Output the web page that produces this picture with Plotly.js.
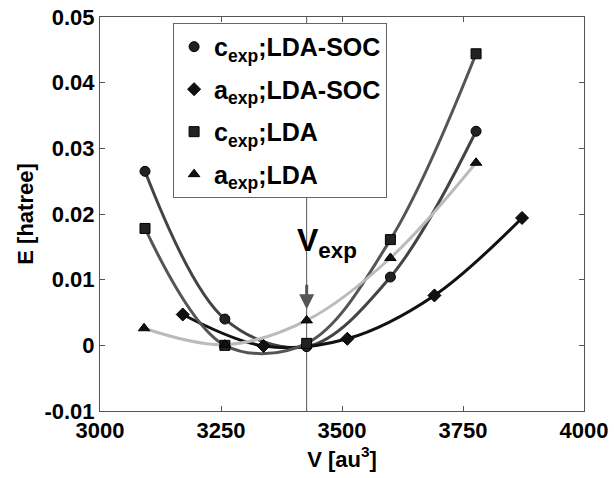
<!DOCTYPE html>
<html>
<head>
<meta charset="utf-8">
<script src="https://cdn.plot.ly/plotly-3.0.1.min.js"></script>
<style>html,body{margin:0;padding:0;background:#fff;}#chart{width:614px;height:478px;}</style>
</head>
<body>
<div id="chart"></div>
<script>
// Data
const seriesNames = ["c<sub>exp</sub>;LDA-SOC", "a<sub>exp</sub>;LDA-SOC", "c<sub>exp</sub>;LDA", "a<sub>exp</sub>;LDA"];
const vCexpSOC = [3093, 3258, 3427, 3600, 3777];
const eCexpSOC = [0.0265, 0.0040, -0.0002, 0.0104, 0.0326];
const vAexpSOC = [3171, 3338, 3511, 3691, 3872];
const eAexpSOC = [0.0047, -0.0001, 0.0010, 0.0076, 0.0194];
const vCexpLDA = [3093, 3258, 3427, 3600, 3777];
const eCexpLDA = [0.0178, 0.0000, 0.0003, 0.0161, 0.0444];
const vAexpLDA = [3091, 3258, 3427, 3600, 3777];
const eAexpLDA = [0.0026, 0.0001, 0.0038, 0.0133, 0.0278];
const vExp = 3427;
const xTicks = [3000, 3250, 3500, 3750, 4000];
const yTicks = [-0.01, 0, 0.01, 0.02, 0.03, 0.04, 0.05];
const yTickText = ["-0.01", "0", "0.01", "0.02", "0.03", "0.04", "0.05"];

const font = {family: "Liberation Sans, Arial, sans-serif", color: "#000"};
const bold = (s) => Object.assign({size: s, weight: "bold"}, font);

function lineTrace(x, y, lineColor) {
  return {
    x: x, y: y, type: "scatter", mode: "lines", showlegend: false, hoverinfo: "skip",
    line: {color: lineColor, width: 3, shape: "spline", smoothing: 1}
  };
}
function markerTrace(x, y, name, symbol, mcolor, grp) {
  return {
    x: x, y: y, name: name, type: "scatter", mode: "markers", legendgroup: grp,
    marker: {symbol: symbol, size: 10, color: mcolor, line: {color: "#000", width: 1}},
    cliponaxis: false
  };
}

const data = [
  lineTrace(vCexpSOC, eCexpSOC, "#444"),
  lineTrace(vAexpSOC, eAexpSOC, "#111"),
  lineTrace(vCexpLDA, eCexpLDA, "#555"),
  lineTrace(vAexpLDA, eAexpLDA, "#bbb"),
  markerTrace(vCexpSOC, eCexpSOC, seriesNames[0], "circle", "#222", "g1"),
  markerTrace(vAexpSOC, eAexpSOC, seriesNames[1], "diamond", "#111", "g2"),
  markerTrace(vCexpLDA, eCexpLDA, seriesNames[2], "square", "#222", "g3"),
  markerTrace(vAexpLDA, eAexpLDA, seriesNames[3], "triangle-up", "#111", "g4")
];

const layout = {
  width: 614, height: 478,
  margin: {l: 100, r: 30, t: 17, b: 67},
  paper_bgcolor: "#fff", plot_bgcolor: "#fff",
  showlegend: true,
  legend: {
    x: 0.151, y: 0.985, xanchor: "left", yanchor: "top",
    bgcolor: "#fff", bordercolor: "#666", borderwidth: 1,
    font: bold(25), itemwidth: 30, tracegroupgap: 7, traceorder: "grouped"
  },
  xaxis: {
    range: [3000, 4000], tickvals: xTicks, ticktext: xTicks.map(String),
    ticks: "inside", ticklen: 5, tickcolor: "#555", mirror: "ticks",
    showline: true, linecolor: "#555", linewidth: 1, showgrid: false, zeroline: false,
    tickfont: bold(22),
    title: {text: "V [au<sup>3</sup>]", font: bold(22), standoff: 2}
  },
  yaxis: {
    range: [-0.01, 0.05], tickvals: yTicks, ticktext: yTickText,
    ticks: "inside", ticklen: 5, tickcolor: "#555", mirror: "ticks",
    showline: true, linecolor: "#555", linewidth: 1, showgrid: false, zeroline: false,
    tickfont: bold(22),
    title: {text: "E [hatree]", font: bold(22), standoff: 4}
  },
  shapes: [
    {type: "line", xref: "x", yref: "paper", x0: vExp, x1: vExp, y0: 0, y1: 1, line: {color: "#555", width: 1}, layer: "below"}
  ],
  annotations: [
    {x: vExp, y: 0.0157, xref: "x", yref: "y", text: "V<sub>exp</sub>", showarrow: false,
     xanchor: "left", yanchor: "middle", xshift: -12,
     font: bold(32)},
    {x: vExp, y: 0.0055, xref: "x", yref: "y", ax: 0, ay: -26, showarrow: true,
     arrowhead: 2, arrowsize: 1, arrowwidth: 3, arrowcolor: "#555", text: ""}
  ]
};

Plotly.newPlot("chart", data, layout, {staticPlot: true, displayModeBar: false});
</script>
</body>
</html>
